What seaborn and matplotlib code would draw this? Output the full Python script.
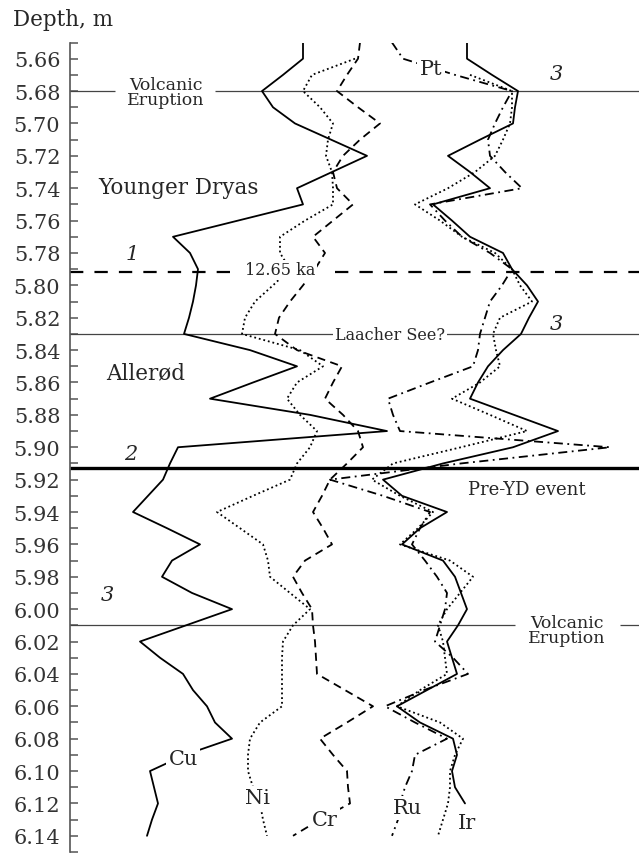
import numpy as np
import pandas as pd
import matplotlib
matplotlib.use("Agg")
import matplotlib.pyplot as plt
import seaborn as sns

sns.set_style("white")
plt.rcParams["font.family"] = ["DejaVu Serif"]

# ── Data: depth (m) and horizontal position of each element curve ─────────────
depth = [5.65, 5.66, 5.67, 5.68, 5.69, 5.70, 5.71, 5.72, 5.73, 5.74,
         5.75, 5.76, 5.77, 5.78, 5.79, 5.80, 5.81, 5.82, 5.83, 5.84,
         5.85, 5.86, 5.87, 5.88, 5.89, 5.90, 5.91, 5.92, 5.93, 5.94,
         5.95, 5.96, 5.97, 5.98, 5.99, 6.00, 6.01, 6.02, 6.03, 6.04,
         6.05, 6.06, 6.07, 6.08, 6.09, 6.10, 6.11, 6.12, 6.13, 6.14]

cu = [303, 303, 283, 262, 273, 295, 331, 367, 332, 297,
      303, 238, 173, 190, 198, 196, 193, 189, 184, 250,
      297, 253, 210, 310, 387, 178, 170, 163, 148, 133,
      167, 200, 172, 162, 192, 232, 186, 140, 160, 183,
      193, 207, 215, 232, 185, 150, 154, 158, 152, 147]

ni = [np.nan, 355, 312, 303, 320, 333, 328, 326, 332, 333,
      333, 305, 280, 280, 290, 273, 255, 245, 242, 300,
      323, 297, 287, 300, 317, 310, 297, 290, 253, 217,
      240, 263, 268, 270, 290, 310, 293, 283, 282, 282,
      282, 282, 260, 250, 248, 248, 253, 260, 263, 267]

cr = [360, 358, 347, 337, 358, 380, 360, 343, 333, 337,
      353, 333, 313, 325, 315, 303, 290, 279, 275, 297,
      342, 333, 325, 343, 358, 363, 347, 330, 322, 313,
      323, 332, 305, 293, 302, 312, 313, 315, 316, 317,
      345, 373, 347, 320, 333, 347, 348, 350, 320, 293]

ru = [392, 403, 455, 512, 503, 495, 488, 490, 505, 522,
      430, 445, 462, 490, 512, 502, 490, 485, 480, 478,
      473, 430, 388, 393, 400, 610, 461, 330, 383, 430,
      420, 412, 425, 437, 447, 445, 440, 435, 453, 468,
      424, 385, 415, 447, 415, 412, 405, 400, 398, 392]

pt = [np.nan, np.nan, 470, 512, 512, 510, 503, 495, 475, 448,
      415, 440, 462, 495, 512, 520, 532, 500, 493, 496,
      500, 480, 452, 490, 527, 461, 393, 372, 400, 433,
      418, 400, 450, 473, 460, 447, 438, 443, 445, 447,
      420, 397, 440, 463, 455, 450, 450, 448, 443, 438]

ir = [467, 467, 492, 518, 515, 513, 480, 448, 470, 490,
      433, 452, 470, 503, 512, 527, 538, 529, 521, 503,
      488, 478, 470, 514, 558, 513, 443, 383, 402, 447,
      420, 402, 443, 455, 461, 467, 458, 447, 452, 457,
      427, 397, 420, 453, 457, 452, 455, 465, np.nan, np.nan]

major_ticks = np.round(np.arange(5.66, 6.141, 0.02), 2)
minor_ticks = np.round(np.arange(5.65, 6.151, 0.01), 2)

# ── Figure ────────────────────────────────────────────────────────────────────
fig = plt.figure(figsize=(6.39, 8.54), dpi=100)
ax = fig.add_axes([70 / 639, 1 / 854, 569 / 639, 809.5 / 854])

series = [
    ("Cu", cu, "-"),
    ("Ni", ni, (0, (1, 1.6))),
    ("Cr", cr, (0, (4.5, 3))),
    ("Ru", ru, (0, (5, 2.5, 1, 2.5))),
    ("Pt", pt, (0, (1, 1.6))),
    ("Ir", ir, "-"),
]
for name, xs, ls in series:
    df = pd.DataFrame({"depth": depth, "x": xs}).dropna()
    sns.lineplot(data=df, x="x", y="depth", orient="y", sort=False,
                 estimator=None, color="black", lw=1.3, linestyle=ls,
                 ax=ax, zorder=3)

ax.set_xlim(70, 639)
ax.set_ylim(6.15, 5.65)
ax.set_xlabel("")
ax.set_ylabel("")
ax.xaxis.set_visible(False)
for s in ["top", "right", "bottom"]:
    ax.spines[s].set_visible(False)
ax.spines["left"].set_color("#555555")
ax.spines["left"].set_linewidth(1.2)

ax.set_yticks(major_ticks)
ax.set_yticklabels([f"{t:.2f}" for t in major_ticks])
ax.set_yticks(minor_ticks, minor=True)
ax.tick_params(axis="y", which="both", left=True, direction="in", length=6,
               width=1.1, color="#555555", pad=7)
ax.tick_params(axis="y", which="major", labelsize=15, labelcolor="#333333")

# ── Event lines ───────────────────────────────────────────────────────────────
thin = dict(color="#444444", lw=0.9, zorder=2)
ax.hlines(5.68, 70, 115, **thin)
ax.hlines(5.68, 215, 639, **thin)
ax.hlines(5.83, 70, 639, **thin)
ax.hlines(6.01, 70, 515, **thin)
ax.hlines(6.01, 620, 639, **thin)
ax.hlines(5.792, 70, 230, color="black", lw=1.6, linestyles=(0, (6, 5)), zorder=2)
ax.hlines(5.792, 335, 639, color="black", lw=1.6, linestyles=(0, (6, 5)), zorder=2)
ax.hlines(5.913, 70, 639, color="black", lw=2.4, zorder=2)

white = dict(facecolor="white", edgecolor="none", boxstyle="square,pad=0.12")

ax.text(166, 5.6805, "Volcanic\nEruption", ha="center", va="center",
        fontsize=12.5, linespacing=0.85)
ax.text(567, 6.0127, "Volcanic\nEruption", ha="center", va="center",
        fontsize=12.5, linespacing=0.85)
ax.text(280, 5.7905, "12.65 ka", ha="center", va="center", fontsize=11.5,
        bbox=white, zorder=6)
ax.text(390, 5.8305, "Laacher See?", ha="center", va="center", fontsize=11.5,
        bbox=white, zorder=6)
ax.text(178, 5.739, "Younger Dryas", ha="center", va="center", fontsize=15.5)
ax.text(146, 5.854, "Allerød", ha="center", va="center", fontsize=15.5)
ax.text(527, 5.9256, "Pre-YD event", ha="center", va="center", fontsize=13)

for x, y, s in [(556, 5.6693, "3"), (132, 5.7805, "1"), (131, 5.904, "2"),
                (556, 5.8237, "3"), (107, 5.991, "3")]:
    ax.text(x, y, s, ha="center", va="center", fontsize=15, fontstyle="italic")

# element labels sit on the curves, masking them
for x, y, s in [(431, 5.6662, "Pt"), (183, 6.0924, "Cu"), (258, 6.1165, "Ni"),
                (325, 6.1301, "Cr"), (407, 6.1227, "Ru"), (467, 6.132, "Ir")]:
    ax.text(x, y, s, ha="center", va="center", fontsize=15, bbox=white, zorder=6)

fig.text(13 / 639, 1 - 20 / 854, "Depth, m", ha="left", va="center", fontsize=15.5)

fig.savefig("out.png", dpi=100, facecolor="white")
